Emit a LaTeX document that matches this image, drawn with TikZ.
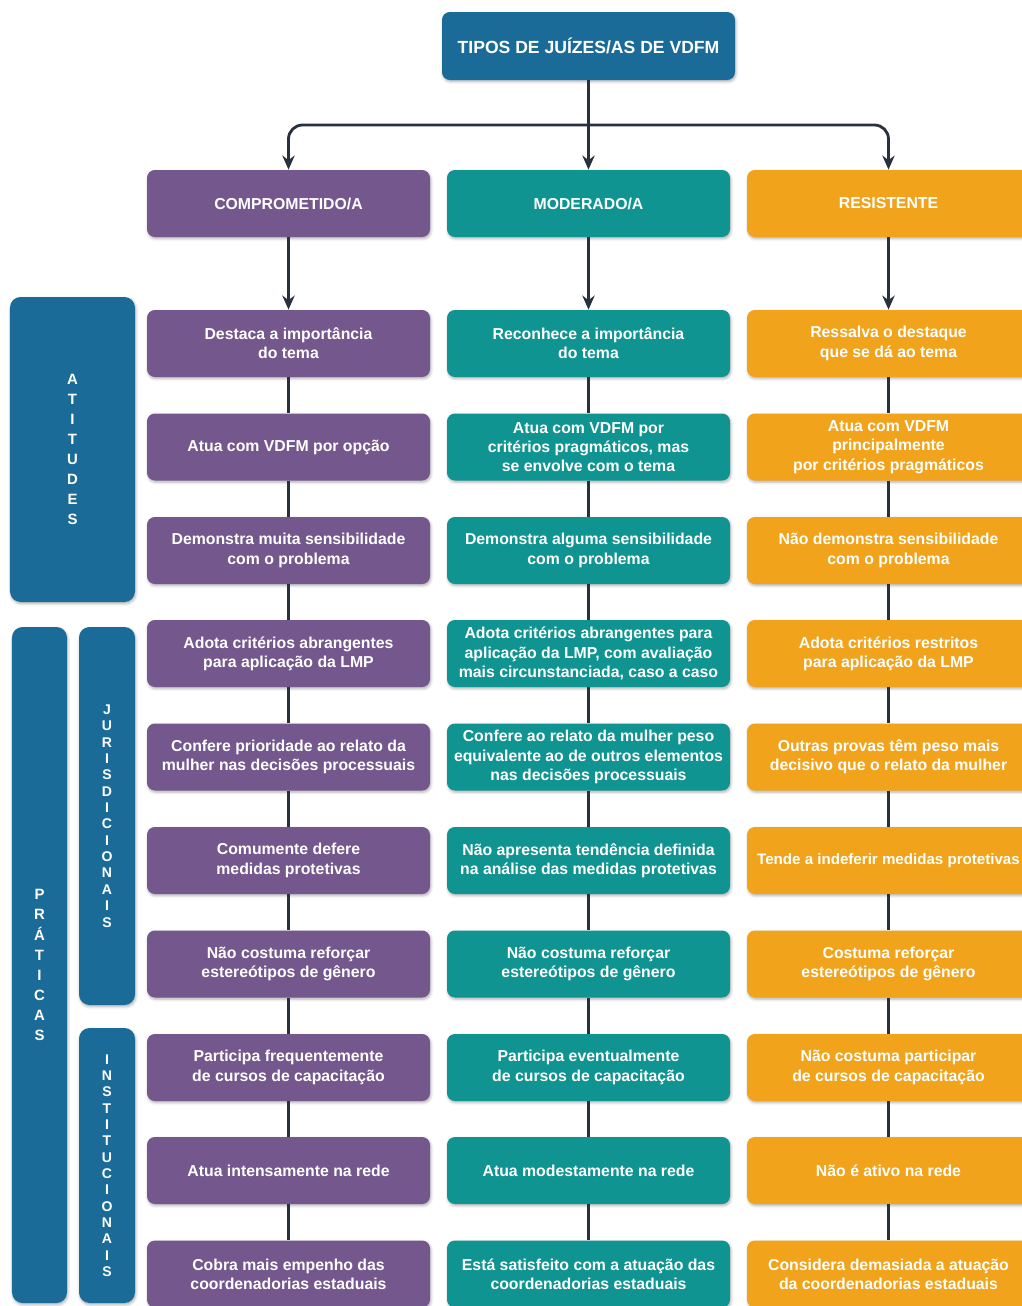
\documentclass[tikz,border=0pt]{standalone}
\usepackage{fontspec}
\setmainfont{Liberation Sans}
\usepackage{tikz}
\usetikzlibrary{arrows.meta, positioning, shadows.blur}
\definecolor{vdfmblue}{RGB}{27, 107, 153}
\definecolor{comppurple}{RGB}{116, 88, 141}
\definecolor{modteal}{RGB}{16, 148, 146}
\definecolor{resorange}{RGB}{241, 163, 28}
\definecolor{linkdark}{RGB}{40, 50, 62}

\begin{document}
\begin{tikzpicture}[
    box/.style={rectangle, rounded corners=4.5pt, minimum width=5.66cm, minimum height=1.34cm, inner sep=2pt, align=center, text=white, font=\fontsize{9}{11}\selectfont\bfseries, blur shadow={shadow xshift=0.5pt, shadow yshift=-1pt, shadow blur radius=1.5pt, shadow opacity=30}},
    topbox/.style={box, fill=vdfmblue, minimum width=5.86cm, minimum height=1.36cm, font=\fontsize{10}{12}\selectfont\bfseries},
    compbox/.style={box, fill=comppurple},
    modbox/.style={box, fill=modteal},
    resbox/.style={box, fill=resorange},
    catbox/.style={rectangle, rounded corners=6pt, fill=vdfmblue, text=white, inner sep=0pt, align=center, blur shadow={shadow xshift=0.5pt, shadow yshift=-1pt, shadow blur radius=1.5pt, shadow opacity=30}},
    biglbl/.style={font=\fontsize{8.5}{11.4}\selectfont\bfseries},
    smalllbl/.style={font=\fontsize{8}{9.3}\selectfont\bfseries},
    arr/.style={-{Stealth[length=8pt, width=7pt]}, line width=1.6pt, linkdark},
    link/.style={line width=1.6pt, linkdark}
]
\useasboundingbox (0,0) rectangle (20.44,-26.12);

% ── Top ──
\node[topbox] (top) at (11.77, -0.92) {TIPOS DE JUÍZES/AS DE VDFM};

% Headers
\node[compbox] (h1) at (5.77, -4.07) {COMPROMETIDO/A};
\node[modbox] (h2) at (11.77, -4.07) {MODERADO/A};
\node[resbox] (h3) at (17.77, -4.07) {RESISTENTE};

% Branch
\coordinate (split) at (11.77, -2.5);
\draw[arr] (top) -- (h2);
\draw[arr, rounded corners=8pt] (split) -| (h1);
\draw[arr, rounded corners=8pt] (split) -| (h3);

% ── Side labels ──
\node[catbox, biglbl, minimum width=2.5cm, minimum height=6.1cm] (att) at (1.45, -8.99) {A\\T\\I\\T\\U\\D\\E\\S};
\node[catbox, biglbl, minimum width=1.1cm, minimum height=13.52cm] (prat) at (0.79, -19.3) {P\\R\\Á\\T\\I\\C\\A\\S};
\node[catbox, smalllbl, minimum width=1.12cm, minimum height=7.56cm] (jur) at (2.14, -16.32) {J\\U\\R\\I\\S\\D\\I\\C\\I\\O\\N\\A\\I\\S};
\node[catbox, smalllbl, minimum width=1.12cm, minimum height=5.5cm] (inst) at (2.14, -23.31) {I\\N\\S\\T\\I\\T\\U\\C\\I\\O\\N\\A\\I\\S};

% ── Comprometido/a ──
\node[compbox] (c1) at (5.77, -6.87) {Destaca a importância\\do tema};
\node[compbox] (c2) at (5.77, -8.94) {Atua com VDFM por opção};
\node[compbox] (c3) at (5.77, -11.01) {Demonstra muita sensibilidade\\com o problema};
\node[compbox] (c4) at (5.77, -13.07) {Adota critérios abrangentes\\para aplicação da LMP};
\node[compbox] (c5) at (5.77, -15.14) {Confere prioridade ao relato da\\mulher nas decisões processuais};
\node[compbox] (c6) at (5.77, -17.21) {Comumente defere\\medidas protetivas};
\node[compbox] (c7) at (5.77, -19.28) {Não costuma reforçar\\estereótipos de gênero};
\node[compbox] (c8) at (5.77, -21.35) {Participa frequentemente\\de cursos de capacitação};
\node[compbox] (c9) at (5.77, -23.41) {Atua intensamente na rede};
\node[compbox] (c10) at (5.77, -25.48) {Cobra mais empenho das\\coordenadorias estaduais};

% ── Moderado/a ──
\node[modbox] (m1) at (11.77, -6.87) {Reconhece a importância\\do tema};
\node[modbox] (m2) at (11.77, -8.94) {Atua com VDFM por\\critérios pragmáticos, mas\\se envolve com o tema};
\node[modbox] (m3) at (11.77, -11.01) {Demonstra alguma sensibilidade\\com o problema};
\node[modbox] (m4) at (11.77, -13.07) {Adota critérios abrangentes para\\aplicação da LMP, com avaliação\\mais circunstanciada, caso a caso};
\node[modbox] (m5) at (11.77, -15.14) {Confere ao relato da mulher peso\\equivalente ao de outros elementos\\nas decisões processuais};
\node[modbox] (m6) at (11.77, -17.21) {Não apresenta tendência definida\\na análise das medidas protetivas};
\node[modbox] (m7) at (11.77, -19.28) {Não costuma reforçar\\estereótipos de gênero};
\node[modbox] (m8) at (11.77, -21.35) {Participa eventualmente\\de cursos de capacitação};
\node[modbox] (m9) at (11.77, -23.41) {Atua modestamente na rede};
\node[modbox] (m10) at (11.77, -25.48) {Está satisfeito com a atuação das\\coordenadorias estaduais};

% ── Resistente ──
\node[resbox] (r1) at (17.77, -6.87) {Ressalva o destaque\\que se dá ao tema};
\node[resbox] (r2) at (17.77, -8.94) {Atua com VDFM\\principalmente\\por critérios pragmáticos};
\node[resbox] (r3) at (17.77, -11.01) {Não demonstra sensibilidade\\com o problema};
\node[resbox] (r4) at (17.77, -13.07) {Adota critérios restritos\\para aplicação da LMP};
\node[resbox] (r5) at (17.77, -15.14) {Outras provas têm peso mais\\decisivo que o relato da mulher};
\node[resbox, font=\fontsize{8.6}{11}\selectfont\bfseries] (r6) at (17.77, -17.21) {Tende a indeferir medidas protetivas};
\node[resbox] (r7) at (17.77, -19.28) {Costuma reforçar\\estereótipos de gênero};
\node[resbox] (r8) at (17.77, -21.35) {Não costuma participar\\de cursos de capacitação};
\node[resbox] (r9) at (17.77, -23.41) {Não é ativo na rede};
\node[resbox] (r10) at (17.77, -25.48) {Considera demasiada a atuação\\da coordenadorias estaduais};

% Header arrows
\draw[arr] (h1) -- (c1);
\draw[arr] (h2) -- (m1);
\draw[arr] (h3) -- (r1);

% Column links
\draw[link] (c1) -- (c2) -- (c3) -- (c4) -- (c5) -- (c6) -- (c7) -- (c8) -- (c9) -- (c10);
\draw[link] (m1) -- (m2) -- (m3) -- (m4) -- (m5) -- (m6) -- (m7) -- (m8) -- (m9) -- (m10);
\draw[link] (r1) -- (r2) -- (r3) -- (r4) -- (r5) -- (r6) -- (r7) -- (r8) -- (r9) -- (r10);

\end{tikzpicture}
\end{document}
